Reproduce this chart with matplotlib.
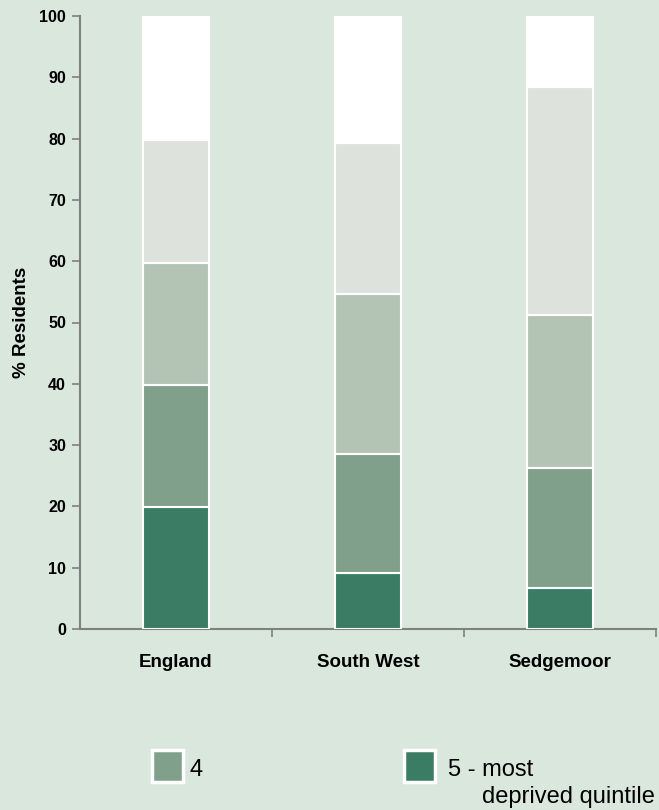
import matplotlib
matplotlib.use("Agg")
import matplotlib.pyplot as plt
from matplotlib.patches import Rectangle
import numpy as np

plt.rcParams['font.family'] = ['Liberation Sans', 'DejaVu Sans']

# Données (% de résidents par quintile de privation)
zones = ["England", "South West", "Sedgemoor"]
quintile_5 = [19.9, 9.1, 6.7]     # 5 - most deprived quintile
quintile_4 = [19.9, 19.4, 19.6]
quintile_3 = [19.9, 26.1, 24.9]
quintile_2 = [20.1, 24.7, 37.2]
quintile_1 = [20.2, 20.7, 11.6]   # 1 - least deprived
y_ticks = [0, 10, 20, 30, 40, 50, 60, 70, 80, 90, 100]

couleurs = ["#3b7d64", "#80a08b", "#b3c4b5", "#dde2dd", "#ffffff"]
series = [quintile_5, quintile_4, quintile_3, quintile_2, quintile_1]

legende_labels = ["4", "5 - most"]
legende_couleurs = [couleurs[1], couleurs[0]]

fond = "#dae7dc"
W, H = 659, 810

fig = plt.figure(figsize=(W / 100, H / 100), dpi=100, facecolor=fond)
ax = fig.add_axes([80 / W, 1 - 629 / H, (656 - 80) / W, (629 - 16) / H])
ax.set_facecolor(fond)

x = np.arange(len(zones))
bas = np.zeros(len(zones))
for vals, c in zip(series, couleurs):
    ax.bar(x, vals, bottom=bas, width=0.345, color=c, edgecolor="white", linewidth=1.5, zorder=3)
    bas += np.array(vals)

ax.set_xlim(-0.5, 2.5)
ax.set_ylim(0, 100)
ax.set_yticks(y_ticks)
ax.set_yticklabels([str(t) for t in y_ticks], fontsize=11.5, fontweight="bold")
ax.set_xticks(x)
ax.set_xticklabels(zones, fontsize=13.5, fontweight="bold")
ax.tick_params(axis="x", length=0, pad=18)
ax.set_xticks([0.5, 1.5, 2.5], minor=True)
ax.tick_params(axis="x", which="minor", length=6, width=1.2, color="#808080", direction="out")
ax.tick_params(axis="y", length=6, width=1.2, color="#808080", direction="out", pad=4)
ax.set_ylabel("% Residents", fontsize=13.5, fontweight="bold", labelpad=7)

for s in ["top", "right"]:
    ax.spines[s].set_visible(False)
for s in ["left", "bottom"]:
    ax.spines[s].set_color("#808080")
    ax.spines[s].set_linewidth(1.5)

# Légende dessinée à la main (partiellement visible comme sur l'original)
positions = [(152, 189), (404, 448)]
for (xr, xt), lab, c in zip(positions, legende_labels, legende_couleurs):
    fig.add_artist(Rectangle((xr / W, 1 - 782 / H), 31 / W, 32 / H,
                             transform=fig.transFigure, facecolor=c,
                             edgecolor="white", linewidth=2.5))
    fig.text(xt / W, 1 - 776 / H, lab, fontsize=17, va="baseline", ha="left")
fig.text(482 / W, 1 - 803 / H, "deprived quintile", fontsize=17, va="baseline", ha="left")

fig.savefig("out.png", dpi=100, facecolor=fond)
